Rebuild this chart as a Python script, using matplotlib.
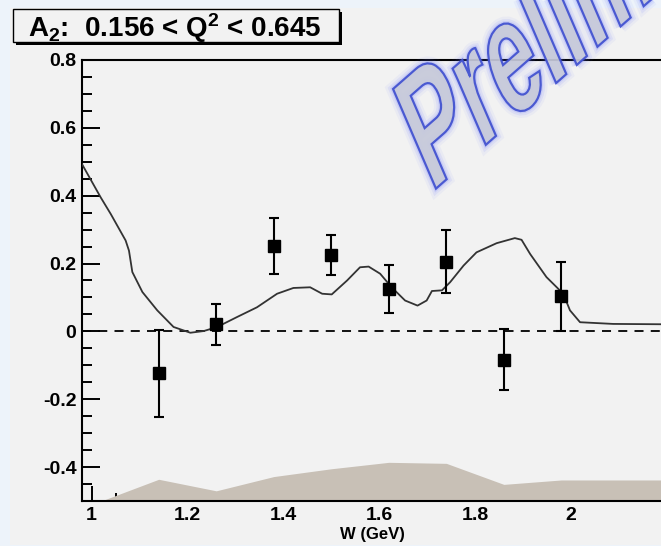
import numpy as np
import matplotlib
matplotlib.use("Agg")
import matplotlib.pyplot as plt
import matplotlib.transforms as mtransforms
from matplotlib.patches import Rectangle, PathPatch
from matplotlib.textpath import TextPath
from matplotlib.font_manager import FontProperties
from matplotlib.ticker import MultipleLocator, FixedLocator

plt.rcParams['font.family'] = ['Liberation Sans', 'DejaVu Sans']
plt.rcParams['font.weight'] = 'bold'
plt.rcParams['mathtext.fontset'] = 'custom'
plt.rcParams['mathtext.rm'] = 'Liberation Sans:bold'
plt.rcParams['mathtext.default'] = 'rm'

# data points
w_data = [1.14, 1.26, 1.38, 1.50, 1.62, 1.74, 1.86, 1.98]
a2_data = [-0.124, 0.021, 0.251, 0.224, 0.125, 0.206, -0.083, 0.103]
a2_err = [0.128, 0.061, 0.082, 0.059, 0.070, 0.093, 0.090, 0.103]

# model curve
curve_w = [0.98, 1.019, 1.04, 1.071, 1.078, 1.085, 1.106, 1.137, 1.171, 1.206,
           1.234, 1.262, 1.303, 1.345, 1.387, 1.421, 1.456, 1.481, 1.501, 1.533,
           1.560, 1.578, 1.602, 1.626, 1.654, 1.680, 1.699, 1.710, 1.731, 1.748,
           1.776, 1.803, 1.845, 1.883, 1.897, 1.915, 1.949, 1.984, 1.998, 2.019,
           2.088, 2.19]
curve_a2 = [0.493, 0.395, 0.346, 0.268, 0.238, 0.175, 0.116, 0.062, 0.013, -0.004,
            0.001, 0.013, 0.042, 0.071, 0.111, 0.128, 0.130, 0.111, 0.109, 0.150,
            0.189, 0.191, 0.170, 0.130, 0.091, 0.076, 0.091, 0.119, 0.121, 0.145,
            0.194, 0.233, 0.260, 0.275, 0.270, 0.228, 0.160, 0.111, 0.062, 0.027,
            0.022, 0.021]

# systematic band
sys_w = [1.02, 1.14, 1.26, 1.38, 1.50, 1.62, 1.74, 1.86, 1.98, 2.19]
sys_top = [-0.5, -0.436, -0.47, -0.428, -0.405, -0.386, -0.389, -0.451, -0.438, -0.438]

x_ticks = [1.0, 1.2, 1.4, 1.6, 1.8, 2.0]
x_labels = ['1', '1.2', '1.4', '1.6', '1.8', '2']
y_ticks = [-0.4, -0.2, 0.0, 0.2, 0.4, 0.6, 0.8]
y_labels = ['-0.4', '-0.2', '0', '0.2', '0.4', '0.6', '0.8']

W, H = 661, 546
fig = plt.figure(figsize=(W / 100, H / 100), dpi=100, facecolor='#edf3fa')

# grey pad
fig.add_artist(Rectangle((10 / W, 1 - 545 / H), 651 / W, 537 / H, transform=fig.transFigure,
                         facecolor='#f2f2f2', edgecolor='none', zorder=-5))

ax = fig.add_axes([82 / W, 1 - 501 / H, 580 / W, 441 / H])
ax.set_facecolor('#f2f2f2')
ax.set_xlim(0.98, 2.19)
ax.set_ylim(-0.5, 0.8)

ax.fill_between(sys_w, -0.6, sys_top, color='#c8c0b6', linewidth=0, zorder=2.6)
ax.axhline(0, color='black', linestyle=(0, (5, 4)), linewidth=1.3, zorder=2)
ax.plot(curve_w, curve_a2, color='#333333', linewidth=1.3, zorder=3)
ax.errorbar(w_data, a2_data, yerr=a2_err, fmt='s', color='black', markersize=8,
            elinewidth=1.5, capsize=3.5, capthick=1.5, zorder=4)

ax.xaxis.set_major_locator(FixedLocator(x_ticks))
ax.set_xticklabels(x_labels)
ax.xaxis.set_minor_locator(MultipleLocator(0.05))
ax.yaxis.set_major_locator(FixedLocator(y_ticks))
ax.set_yticklabels(y_labels)
ax.yaxis.set_minor_locator(MultipleLocator(0.05))
ax.tick_params(which='both', direction='in', width=1.4, colors='black',
               labelsize=14, top=False, right=False)
ax.tick_params(axis='y', which='major', length=13, pad=4)
ax.tick_params(axis='y', which='minor', length=7)
ax.tick_params(axis='x', which='major', length=11, pad=4)
ax.tick_params(axis='x', which='minor', length=6)
for s in ['left', 'bottom', 'top']:
    ax.spines[s].set_linewidth(1.5)
    ax.spines[s].set_zorder(2.7)
ax.spines['right'].set_visible(False)

fig.text(372 / W, 1 - 535 / H, 'W (GeV)', ha='center', va='center', fontsize=12,
         fontweight='bold')

# title box with shadow
fig.add_artist(Rectangle((16 / W, 1 - 45 / H), 326 / W, 33 / H, transform=fig.transFigure,
                         facecolor='black', edgecolor='none', zorder=5))
fig.add_artist(Rectangle((13 / W, 1 - 42 / H), 326 / W, 33 / H, transform=fig.transFigure,
                         facecolor='#f2f2f2', edgecolor='black', linewidth=1.0, zorder=6))
fig.text(28 / W, 1 - 37 / H, r'A$_2$:  0.156 < Q$^2$ < 0.645', ha='left', va='baseline',
         fontsize=20, fontweight='bold', zorder=7)

# watermark
tp = TextPath((0, 0), 'Preliminary', size=1,
              prop=FontProperties(family='Liberation Sans', weight='bold'))
S = 150
tr = (mtransforms.Affine2D().scale(0.66 * S, S).skew_deg(18, 0)
      .rotate_deg(41.3).translate(431, H - 193))
path = tr.transform_path(tp)
for lw, a in [(10, 0.06), (6.5, 0.1), (3.5, 0.16)]:
    fig.add_artist(PathPatch(path, transform=mtransforms.IdentityTransform(),
                             facecolor='none', edgecolor='#6070ff', linewidth=lw,
                             alpha=a, zorder=10))
fig.add_artist(PathPatch(path, transform=mtransforms.IdentityTransform(),
                         facecolor='#c6c9da', edgecolor='#4050d0', linewidth=1.6,
                         alpha=0.92, zorder=11))

fig.savefig('out.png', dpi=100, facecolor=fig.get_facecolor())
